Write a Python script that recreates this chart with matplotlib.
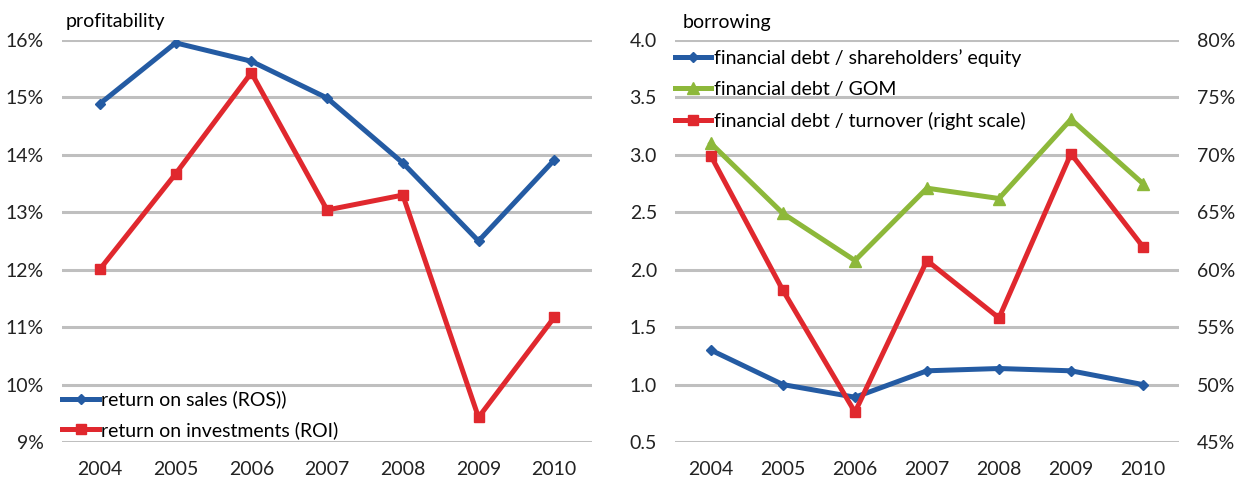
import matplotlib.pyplot as plt
from matplotlib.ticker import FuncFormatter

plt.rcParams['font.family'] = ['Lato', 'DejaVu Sans']

years = ['2004', '2005', '2006', '2007', '2008', '2009', '2010']
ros = [14.89, 15.95, 15.63, 14.99, 13.86, 12.50, 13.91]
roi = [12.01, 13.67, 15.43, 13.04, 13.30, 9.43, 11.17]

debt_equity = [1.30, 1.00, 0.89, 1.12, 1.14, 1.12, 1.00]
debt_gom = [3.10, 2.49, 2.08, 2.71, 2.62, 3.31, 2.75]
debt_turnover = [69.9, 58.2, 47.6, 60.8, 55.8, 70.1, 62.0]

blue = '#245BA3'
red = '#E0282E'
green = '#8DB83A'
grid = '#BFBFBF'
fs = 14
lw = 3.6

fig = plt.figure(figsize=(12.46, 4.79), dpi=100)

def style(ax):
    for s in ax.spines.values():
        s.set_visible(False)
    ax.tick_params(length=0, labelsize=fs, colors='#222222')
    ax.tick_params(axis='x', pad=14)
    ax.tick_params(axis='y', pad=13)
    ax.yaxis.grid(True, color=grid, linewidth=2.2)
    ax.set_axisbelow(True)

x = range(len(years))

# left panel: profitability
ax1 = fig.add_axes([0.0498, 0.0772, 0.4254, 0.8393])
style(ax1)
ax1.plot(x, ros, color=blue, lw=lw, marker='D', ms=5.5, label='return on sales (ROS))')
ax1.plot(x, roi, color=red, lw=lw, marker='s', ms=6.5, label='return on investments (ROI)')
ax1.set_ylim(9, 16)
ax1.set_yticks(range(9, 17))
ax1.yaxis.set_major_formatter(FuncFormatter(lambda v, p: '%d%%' % v))
ax1.set_xlim(-0.5, 6.5)
ax1.set_xticks(list(x))
ax1.set_xticklabels(years)
ax1.text(0.006, 1.047, 'profitability', transform=ax1.transAxes, fontsize=fs, va='center')
ax1.legend(loc='lower left', bbox_to_anchor=(0, 0.0075), frameon=False, fontsize=fs,
           handlelength=1.9, handletextpad=0.1, labelspacing=0.65,
           borderaxespad=0, borderpad=0)

# right panel: borrowing
ax2 = fig.add_axes([0.5417, 0.0772, 0.4045, 0.8393])
style(ax2)
l1, = ax2.plot(x, debt_equity, color=blue, lw=lw, marker='D', ms=5.5)
l2, = ax2.plot(x, debt_gom, color=green, lw=lw, marker='^', ms=8)
ax2.set_ylim(0.5, 4.0)
ax2.set_yticks([0.5, 1.0, 1.5, 2.0, 2.5, 3.0, 3.5, 4.0])
ax2.yaxis.set_major_formatter(FuncFormatter(lambda v, p: '%.1f' % v))
ax2.set_xlim(-0.5, 6.5)
ax2.set_xticks(list(x))
ax2.set_xticklabels(years)
ax2.text(0.016, 1.044, 'borrowing', transform=ax2.transAxes, fontsize=fs, va='center')

ax3 = ax2.twinx()
for s in ax3.spines.values():
    s.set_visible(False)
ax3.tick_params(length=0, labelsize=fs, colors='#222222', pad=13)
l3, = ax3.plot(x, debt_turnover, color=red, lw=lw, marker='s', ms=6.5)
ax3.set_ylim(45, 80)
ax3.set_yticks(range(45, 81, 5))
ax3.yaxis.set_major_formatter(FuncFormatter(lambda v, p: '%d%%' % v))

ax3.legend([l1, l2, l3],
           ['financial debt / shareholders\u2019 equity', 'financial debt / GOM',
            'financial debt / turnover (right scale)'],
           loc='upper left', bbox_to_anchor=(0, 0.978), frameon=False, fontsize=fs,
           handlelength=1.85, handletextpad=0.15, labelspacing=0.72,
           borderaxespad=0, borderpad=0)

fig.savefig('out.png', dpi=100)
